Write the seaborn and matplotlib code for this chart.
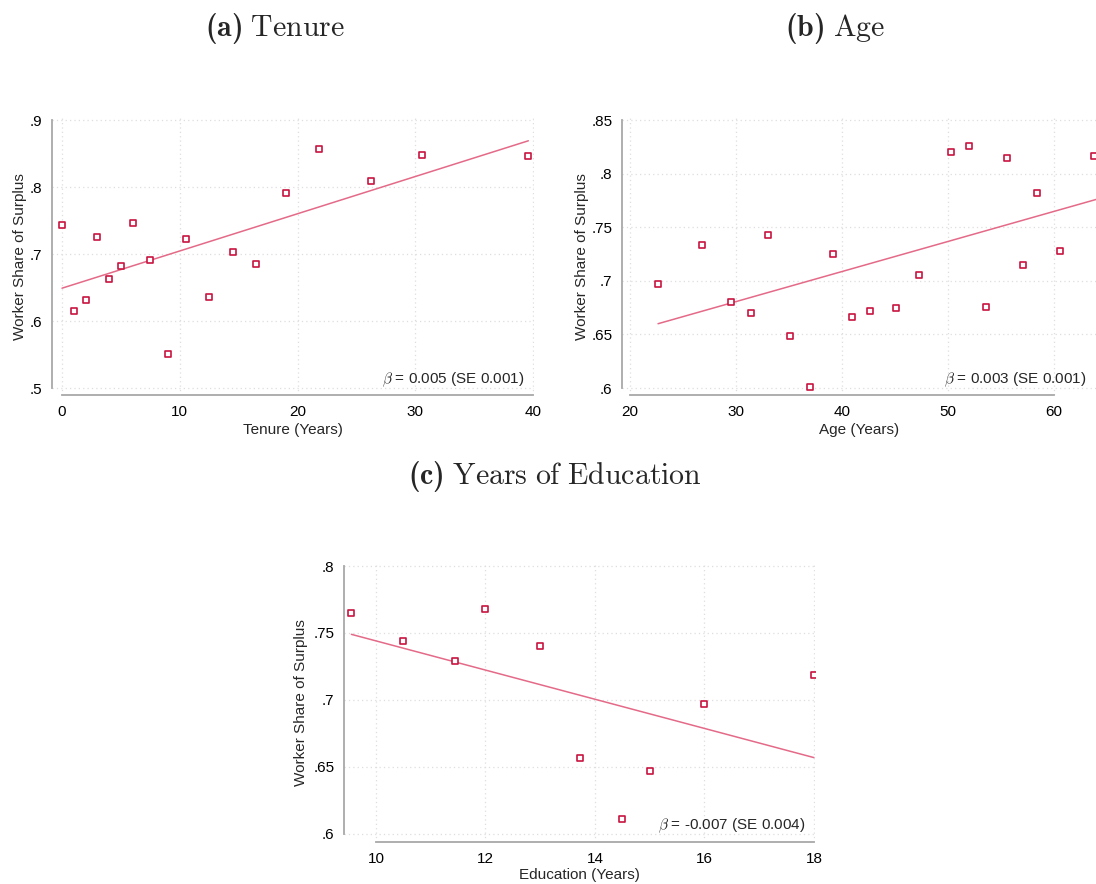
import numpy as np
import pandas as pd
import matplotlib
matplotlib.use("Agg")
import matplotlib.pyplot as plt
import seaborn as sns

# ---------------- data ----------------
tenure_x = [0.0, 1.0, 2.0, 3.0, 4.0, 5.0, 6.0, 7.5, 9.0, 10.5, 12.5, 14.5, 16.5, 19.0, 21.8, 26.2, 30.6, 39.6]
tenure_y = [0.744, 0.615, 0.631, 0.725, 0.663, 0.682, 0.747, 0.691, 0.551, 0.723, 0.636, 0.703, 0.685, 0.791, 0.857, 0.809, 0.848, 0.846]
tenure_fit_x = [0.0, 39.6]
tenure_fit_y = [0.649, 0.869]

age_x = [22.65, 26.8, 29.5, 31.45, 33.0, 35.1, 37.0, 39.15, 40.95, 42.6, 45.05, 47.3, 50.25, 52.0, 53.55, 55.6, 57.05, 58.35, 60.6, 63.8]
age_y = [0.697, 0.733, 0.680, 0.670, 0.743, 0.649, 0.601, 0.725, 0.666, 0.672, 0.675, 0.705, 0.820, 0.826, 0.676, 0.815, 0.715, 0.782, 0.728, 0.816]
age_fit_x = [22.65, 64.0]
age_fit_y = [0.660, 0.776]

educ_x = [9.55, 10.5, 11.45, 12.0, 13.0, 13.72, 14.5, 15.0, 16.0, 18.0]
educ_y = [0.765, 0.744, 0.729, 0.768, 0.740, 0.657, 0.611, 0.647, 0.697, 0.719]
educ_fit_x = [9.55, 18.0]
educ_fit_y = [0.749, 0.657]

tenure_xticks = [0, 10, 20, 30, 40]
tenure_yticks = [0.5, 0.6, 0.7, 0.8, 0.9]
tenure_ylabels = [".5", ".6", ".7", ".8", ".9"]
age_xticks = [20, 30, 40, 50, 60]
age_yticks = [0.6, 0.65, 0.7, 0.75, 0.8, 0.85]
age_ylabels = [".6", ".65", ".7", ".75", ".8", ".85"]
educ_xticks = [10, 12, 14, 16, 18]
educ_yticks = [0.6, 0.65, 0.7, 0.75, 0.8]
educ_ylabels = [".6", ".65", ".7", ".75", ".8"]

titles = [r"$\mathbf{(a)}\ \mathrm{Tenure}$",
          r"$\mathbf{(b)}\ \mathrm{Age}$",
          r"$\mathbf{(c)}\ \mathrm{Years\ of\ Education}$"]
xlabels = ["Tenure (Years)", "Age (Years)", "Education (Years)"]
ylabel = "Worker Share of Surplus"
notes = [r"$\beta$ = 0.005 (SE 0.001)", r"$\beta$ = 0.003 (SE 0.001)", r"$\beta$ = -0.007 (SE 0.004)"]

# ---------------- style ----------------
sns.set_style("white")
plt.rcParams["font.family"] = ["Liberation Sans", "DejaVu Sans"]
plt.rcParams["mathtext.fontset"] = "custom"
plt.rcParams["mathtext.rm"] = "cmr10"
plt.rcParams["mathtext.bf"] = "cmb10"
plt.rcParams["mathtext.it"] = "cmr10:italic"
plt.rcParams["axes.unicode_minus"] = False

MARK = "#c8143f"
LINE = "#e46a88"
AXC = "#a8a8a8"
GRID = "#dedede"

fig = plt.figure(figsize=(10.96, 8.84), dpi=100)
W, H = 1096.0, 884.0


def rect(l, r, t, b):
    return [l / W, 1 - b / H, (r - l) / W, (b - t) / H]


def panel(r, x, y, fx, fy, xlim, ylim, xt, yt, ytl, xlab, note, note_xy, ylab_x, xlab_y):
    ax = fig.add_axes(r)
    df = pd.DataFrame({"x": x, "y": y})
    fit = pd.DataFrame({"x": fx, "y": fy})
    sns.lineplot(data=fit, x="x", y="y", ax=ax, color=LINE, lw=1.1, estimator=None, zorder=2)
    sns.scatterplot(data=df, x="x", y="y", ax=ax, marker="s", s=20,
                    facecolor="white", edgecolor=MARK, linewidth=1.2, zorder=3)
    ax.set_xlim(*xlim)
    ax.set_ylim(*ylim)
    ax.set_xticks(xt)
    ax.set_xticklabels([str(v) for v in xt])
    ax.set_yticks(yt)
    ax.set_yticklabels(ytl)
    ax.grid(True, ls=(0, (1, 2.5)), color=GRID, lw=0.9)
    ax.set_axisbelow(True)
    for s in ["top", "right"]:
        ax.spines[s].set_visible(False)
    for s in ["left", "bottom"]:
        ax.spines[s].set_color(AXC)
        ax.spines[s].set_linewidth(1.3)
    ax.spines["left"].set_bounds(yt[0], yt[-1])
    ax.spines["bottom"].set_bounds(xt[0], xt[-1])
    ax.tick_params(axis="both", direction="out", length=5, width=1.1, color=AXC,
                   labelsize=11, pad=2, labelcolor="black")
    ax.set_xlabel(xlab, fontsize=11)
    ax.set_ylabel(ylabel, fontsize=11)
    ax.yaxis.set_label_coords(ylab_x, 0.5)
    ax.xaxis.set_label_coords(0.5, xlab_y)
    ax.text(note_xy[0], note_xy[1], note, ha="right", va="center", fontsize=11,
            math_fontfamily="cm")
    return ax


panel(rect(52, 534, 118, 395), tenure_x, tenure_y, tenure_fit_x, tenure_fit_y,
      (-0.85, 40.08), (0.4896, 0.903), tenure_xticks, tenure_yticks, tenure_ylabels,
      xlabels[0], notes[0], (39.3, 0.512), -0.052, -0.102)

panel(rect(622, 1096, 118, 395), age_x, age_y, age_fit_x, age_fit_y,
      (19.25, 63.96), (0.5935, 0.8519), age_xticks, age_yticks, age_ylabels,
      xlabels[1], notes[1], (63.1, 0.6075), -0.070, -0.102)

panel(rect(344, 815, 564, 842), educ_x, educ_y, educ_fit_x, educ_fit_y,
      (9.415, 18.02), (0.594, 0.8015), educ_xticks, educ_yticks, educ_ylabels,
      xlabels[2], notes[2], (17.84, 0.606), -0.077, -0.094)

fig.text(275 / W, 1 - 29 / H, titles[0], ha="center", va="center", fontsize=21.5)
fig.text(835 / W, 1 - 29 / H, titles[1], ha="center", va="center", fontsize=21.5)
fig.text(555 / W, 1 - 476 / H, titles[2], ha="center", va="center", fontsize=21.5)

fig.savefig("out.png", dpi=100)
